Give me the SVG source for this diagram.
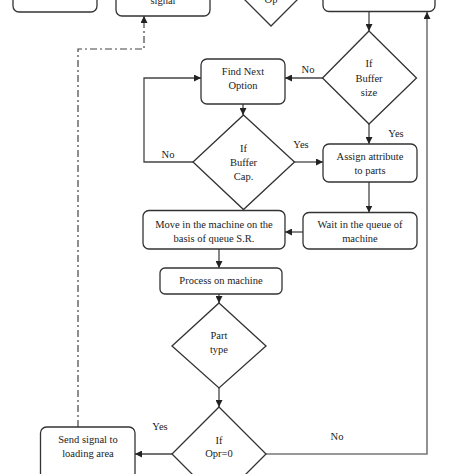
<svg xmlns="http://www.w3.org/2000/svg" width="474" height="474" viewBox="0 0 474 474">
<style>
.box{fill:#fff;stroke:#333;stroke-width:1.3}
.dia{fill:#fff;stroke:#333;stroke-width:1.3}
.t{font-family:"Liberation Serif","Times New Roman",serif;font-size:10.5px;fill:#222;text-anchor:middle}
.c{fill:none;stroke:#444;stroke-width:1.3}
.g{fill:none;stroke:#777;stroke-width:1.6}
.dd{fill:none;stroke:#444;stroke-width:1.2;stroke-dasharray:7,3,2,3}
</style>
<defs>
<marker id="ah" markerUnits="userSpaceOnUse" markerWidth="8" markerHeight="7" refX="7" refY="3.5" orient="auto">
<path d="M0,0 L7,3.5 L0,7 z" fill="#222"/>
</marker>
</defs>
<rect width="474" height="474" fill="#fff"/>
<g id="connectors">
<path class="c" d="M369,12 V31" marker-end="url(#ah)"/>
<path class="c" d="M323,78 H285" marker-end="url(#ah)"/>
<path class="c" d="M369,124 V144" marker-end="url(#ah)"/>
<path class="c" d="M243,104 V115" marker-end="url(#ah)"/>
<path class="c" d="M193,162 H144 V78 H201" marker-end="url(#ah)"/>
<path class="c" d="M294,162 H323" marker-end="url(#ah)"/>
<path class="c" d="M369,182 V212.5" marker-end="url(#ah)"/>
<path class="c" d="M303,232 H285" marker-end="url(#ah)"/>
<path class="c" d="M219,249 V268" marker-end="url(#ah)"/>
<path class="c" d="M219,294 V303" marker-end="url(#ah)"/>
<path class="c" d="M219,388 V407" marker-end="url(#ah)"/>
<path class="c" d="M172,454 H135" marker-end="url(#ah)"/>
<path class="g" d="M266,454 H427 V12" marker-end="url(#ah)"/>
<path class="dd" d="M78,427 V49 H144 V16" marker-end="url(#ah)"/>
<text class="t" x="308" y="73">No</text>
<text class="t" x="396" y="137">Yes</text>
<text class="t" x="168" y="158">No</text>
<text class="t" x="301" y="148">Yes</text>
<text class="t" x="160" y="430">Yes</text>
<text class="t" x="337" y="440">No</text>
</g>
<g id="topLeft"><rect class="box" x="13" y="-20" width="84" height="32" rx="6"/></g>
<g id="signal"><rect class="box" x="116" y="-20" width="94" height="36" rx="6"/><text class="t" x="163" y="4">signal</text></g>
<g id="opTop"><polygon class="dia" points="271,-68 318,-21 271,26 224,-21"/><text class="t" x="271" y="3">Op</text></g>
<g id="topRight"><rect class="box" x="323" y="-20" width="112" height="31.5" rx="6"/></g>
<g id="bufferSize"><polygon class="dia" points="369,31 416.5,78 369,124 322.5,78"/>
<text class="t" x="369" y="67">If</text><text class="t" x="369" y="82">Buffer</text><text class="t" x="369" y="96">size</text></g>
<g id="findNext"><rect class="box" x="201" y="59" width="84" height="45" rx="6"/>
<text class="t" x="243" y="75">Find Next</text><text class="t" x="243" y="89">Option</text></g>
<g id="bufferCap"><polygon class="dia" points="243.5,115 294.5,162 243.5,209.5 193,162"/>
<text class="t" x="243.5" y="152">If</text><text class="t" x="243.5" y="166">Buffer</text><text class="t" x="243.5" y="180">Cap.</text></g>
<g id="assign"><rect class="box" x="323" y="144" width="94" height="38" rx="6"/>
<text class="t" x="370" y="159.5">Assign attribute</text><text class="t" x="370" y="174">to parts</text></g>
<g id="wait"><rect class="box" x="303" y="212.5" width="114" height="36.5" rx="6"/>
<text class="t" x="360" y="227.5">Wait in the queue of</text><text class="t" x="360" y="242">machine</text></g>
<g id="move"><rect class="box" x="143" y="210.5" width="142" height="38.5" rx="6"/>
<text class="t" x="214" y="227.5">Move in the machine on the</text><text class="t" x="214" y="241.5">basis of queue S.R.</text></g>
<g id="process"><rect class="box" x="160" y="268" width="122" height="26" rx="5"/>
<text class="t" x="221" y="284">Process on machine</text></g>
<g id="partType"><polygon class="dia" points="219,303 266,346 219,388 172,346"/>
<text class="t" x="219" y="338.5">Part</text><text class="t" x="219" y="352.5">type</text></g>
<g id="opr"><polygon class="dia" points="219,407 266,454 219,501 172,454"/>
<text class="t" x="219" y="443.5">If</text><text class="t" x="219" y="457">Opr=0</text></g>
<g id="sendSignal"><rect class="box" x="40.5" y="427" width="94.5" height="60" rx="6"/>
<text class="t" x="88" y="442.5">Send signal to</text><text class="t" x="88" y="456.5">loading area</text></g>
</svg>
